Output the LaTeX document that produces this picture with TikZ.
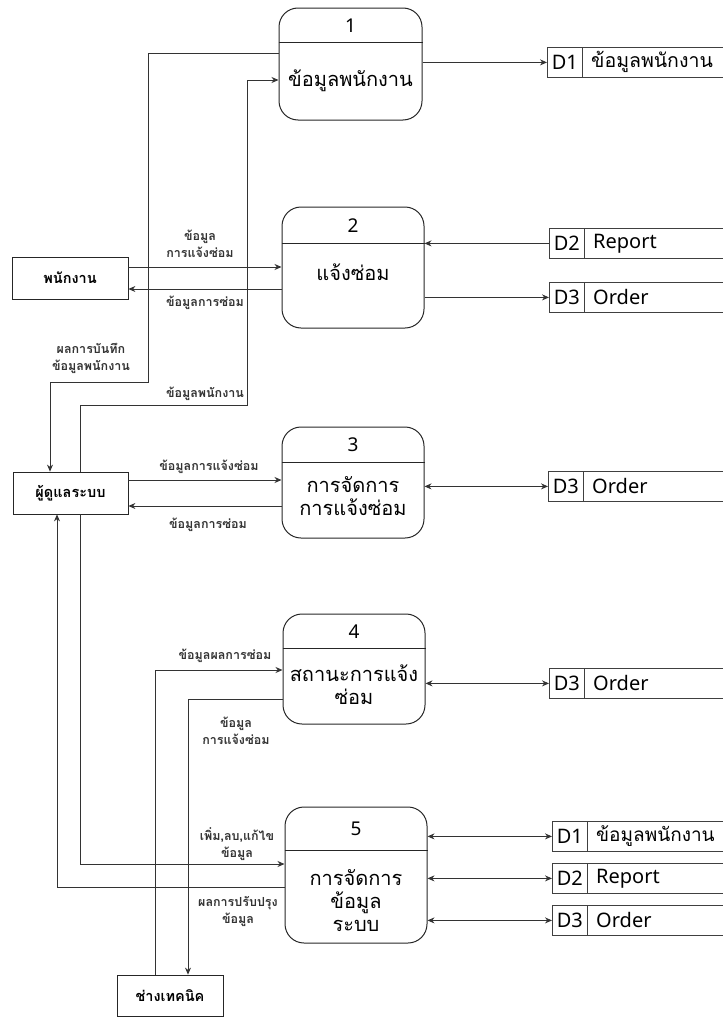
\documentclass[tikz,border=0pt]{standalone}
\usepackage{fontspec}
\setmainfont{Noto Sans}
\newfontfamily\thai[Script=Thai]{Loma}
\usetikzlibrary{arrows.meta,calc}
\newcommand\dstore[5]{%
  \node[sid, anchor=north west] (#1) at (#2,#3) {#4};
  \node[stxt, anchor=west] (#1t) at ([xshift=8pt]#1.east) {#5};
  \draw[storeline] (#1.north east) -- (#1.north east -| R);
  \draw[storeline] (#1.south east) -- (#1.south east -| R);
}
\begin{document}
\begin{tikzpicture}[x=1pt, y=-1pt, line width=0.8pt,
  >={Stealth[length=7pt,width=6pt]},
  proc/.style={draw=black!85, line width=1pt, rounded corners=19pt, inner sep=0pt},
  ent/.style={draw=black!85, inner sep=0pt, font=\thai\bfseries\fontsize{14.5}{16}\selectfont},
  lbl/.style={font=\thai\bfseries\fontsize{12.5}{17}\selectfont, align=center, inner sep=0pt, text=black!80},
  ptxt/.style={font=\thai\fontsize{20}{23}\selectfont, align=center, inner sep=0pt},
  pnum/.style={font=\fontsize{19}{22}\selectfont, inner sep=0pt},
  sid/.style={draw=black!75, minimum width=35pt, minimum height=30pt, inner sep=0pt, font=\fontsize{20}{22}\selectfont},
  stxt/.style={inner sep=0pt, font=\fontsize{20}{22}\selectfont},
  storeline/.style={draw=black!75},
  flow/.style={->, draw=black!80},
  bflow/.style={<->, draw=black!80},
  divline/.style={draw=black!85, line width=1pt}]
\useasboundingbox (0,0) rectangle (723,1017);
\coordinate (R) at (723,0);

% ---------- processes ----------
\node[proc, minimum width=143pt, minimum height=112pt] (p1) at (350.5,64) {};
\draw[divline] (p1.west |- 0,42) -- (p1.east |- 0,42);
\node[pnum] (p1n) at (350.5,26) {1};
\node[ptxt] (p1t) at (350.5,81) {ข้อมูลพนักงาน};

\node[proc, minimum width=142pt, minimum height=121pt] (p2) at (353,267.5) {};
\draw[divline] (p2.west |- 0,243) -- (p2.east |- 0,243);
\node[pnum] (p2n) at (353,226) {2};
\node[ptxt] (p2t) at (353,272) {แจ้งซ่อม};

\node[proc, minimum width=142pt, minimum height=111pt] (p3) at (353,482.5) {};
\draw[divline] (p3.west |- 0,462) -- (p3.east |- 0,462);
\node[pnum] (p3n) at (353,445) {3};
\node[ptxt] (p3t) at (353,496) {การจัดการ\\การแจ้งซ่อม};

\node[proc, minimum width=142pt, minimum height=110pt] (p4) at (354,669) {};
\draw[divline] (p4.west |- 0,648) -- (p4.east |- 0,648);
\node[pnum] (p4n) at (354,632) {4};
\node[ptxt] (p4t) at (354,685) {สถานะการแจ้ง\\ซ่อม};

\node[proc, minimum width=142pt, minimum height=136pt] (p5) at (356,875) {};
\draw[divline] (p5.west |- 0,850) -- (p5.east |- 0,850);
\node[pnum] (p5n) at (356,829) {5};
\node[ptxt] (p5t) at (356,901) {การจัดการ\\ข้อมูล\\ระบบ};

% ---------- external entities ----------
\node[ent, minimum width=116pt, minimum height=42pt] (emp) at (70,278) {พนักงาน};
\node[ent, minimum width=115pt, minimum height=42pt] (admin) at (70.5,493) {ผู้ดูแลระบบ};
\node[ent, minimum width=106pt, minimum height=41pt] (tech) at (170,995.5) {ช่างเทคนิค};

% ---------- data stores ----------
\dstore{s1a}{547}{47}{D1}{\thai\fontsize{19.5}{22}\selectfont ข้อมูลพนักงาน}
\dstore{s2b}{549}{228}{D2}{Report}
\dstore{s3b}{549}{282}{D3}{Order}
\dstore{s3c}{548}{471}{D3}{Order}
\dstore{s3d}{549}{668}{D3}{Order}
\dstore{s1e}{552}{821}{D1}{\thai\fontsize{19}{22}\selectfont ข้อมูลพนักงาน}
\dstore{s2e}{552}{863}{D2}{Report}
\dstore{s3e}{552}{905}{D3}{Order}

% ---------- flows: process 1 ----------
\draw[flow] (p1.east |- s1a) -- (s1a.west);
\draw[flow] (p1.west |- 0,53) -- (148,53) -- (148,382) -- (50,382) -- (admin.north -| 50,0);
\draw[flow] (admin.north -| 80,0) -- (80,405) -- (247,405) -- (247,80) -- (p1.west |- 0,80);
\node[lbl] (l1) at (91,358) {ผลการบันทึก\\ข้อมูลพนักงาน};
\node[lbl] (l2) at (205,394) {ข้อมูลพนักงาน};

% ---------- flows: process 2 ----------
\draw[flow] (emp.east |- 0,267) -- (p2.west |- 0,267);
\draw[flow] (p2.west |- 0,289) -- (emp.east |- 0,289);
\draw[flow] (s2b.west) -- (p2.east |- s2b);
\draw[flow] (p2.east |- s3b) -- (s3b.west);
\node[lbl] (l3) at (200,244) {ข้อมูล\\การแจ้งซ่อม};
\node[lbl] (l4) at (205,303) {ข้อมูลการซ่อม};

% ---------- flows: process 3 ----------
\draw[flow] (admin.east |- 0,480) -- (p3.west |- 0,480);
\draw[flow] (p3.west |- 0,506) -- (admin.east |- 0,506);
\draw[bflow] (p3.east |- s3c) -- (s3c.west);
\node[lbl] (l5) at (209,467) {ข้อมูลการแจ้งซ่อม};
\node[lbl] (l6) at (208,525) {ข้อมูลการซ่อม};

% ---------- flows: process 4 ----------
\draw[flow] (tech.north -| 155,0) -- (155,670) -- (p4.west |- 0,670);
\draw[flow] (p4.west |- 0,699) -- (188,699) -- (tech.north -| 188,0);
\draw[bflow] (p4.east |- s3d) -- (s3d.west);
\node[lbl] (l7) at (225,656) {ข้อมูลผลการซ่อม};
\node[lbl] (l8) at (236,731) {ข้อมูล\\การแจ้งซ่อม};

% ---------- flows: process 5 ----------
\draw[flow] (admin.south -| 80,0) -- (80,864) -- (p5.west |- 0,864);
\draw[flow] (p5.west |- 0,887) -- (57,887) -- (admin.south -| 57,0);
\draw[bflow] (p5.east |- s1e) -- (s1e.west);
\draw[bflow] (p5.east |- s2e) -- (s2e.west);
\draw[bflow] (p5.east |- s3e) -- (s3e.west);
\node[lbl] (l9) at (237,844) {เพิ่ม,ลบ,แก้ไข\\ข้อมูล};
\node[lbl] (l10) at (238,911) {ผลการปรับปรุง\\ข้อมูล};
\end{tikzpicture}
\end{document}
